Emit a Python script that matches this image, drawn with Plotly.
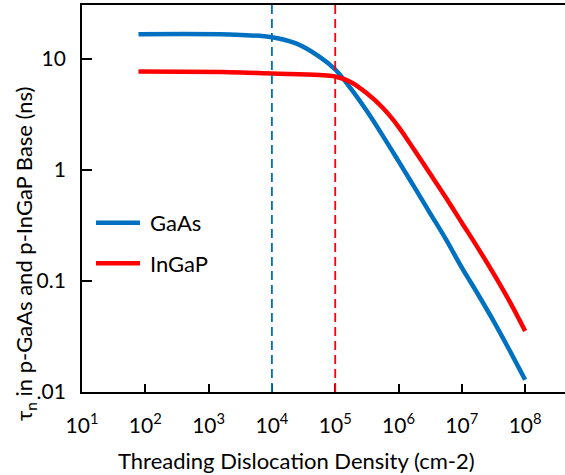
import plotly.graph_objects as go

# Minority-carrier lifetime vs threading dislocation density
gaas_density = [78, 2.1e3, 1e4, 2.4e4, 5.6e4, 1e5, 1.78e5, 3.16e5, 5.62e5, 1e6, 1.78e6,
                3.16e6, 5.62e6, 1e7, 1.78e7, 3.16e7, 5.62e7, 1e8]
gaas_tau = [16.7, 16.6, 15.7, 13.8, 10.5, 8.04, 5.37, 3.39, 2.04, 1.20, 0.70,
            0.407, 0.237, 0.132, 0.0767, 0.0437, 0.0240, 0.0129]

ingap_density = [78, 2.1e3, 1e4, 5.6e4, 1e5, 1.78e5, 3.16e5, 5.62e5, 1e6, 1.78e6,
                 3.16e6, 5.62e6, 1e7, 1.78e7, 3.16e7, 5.62e7, 1e8]
ingap_tau = [7.69, 7.6, 7.4, 7.18, 6.95, 6.17, 4.9, 3.63, 2.45, 1.51,
             0.923, 0.562, 0.335, 0.20, 0.117, 0.0661, 0.0355]

x_tick_vals = [1e1, 1e2, 1e3, 1e4, 1e5, 1e6, 1e7, 1e8]
x_tick_text = ["10<sup>%d</sup>" % i for i in range(1, 9)]
y_tick_vals = [0.01, 0.1, 1, 10]
y_tick_text = [".01", "0.1", "1", "10"]

# Critical densities marked with dashed guides
gaas_critical = 1e4
ingap_critical = 1e5

BLUE = "#0070C0"
RED = "#FF0000"
FONT = "Lato, Open Sans, sans-serif"

fig = go.Figure()
fig.add_trace(go.Scatter(x=gaas_density, y=gaas_tau, mode="lines", name="GaAs",
                         line=dict(color=BLUE, width=4.5, shape="spline", smoothing=1.0),
                         showlegend=False))
fig.add_trace(go.Scatter(x=ingap_density, y=ingap_tau, mode="lines", name="InGaP",
                         line=dict(color=RED, width=4.5, shape="spline", smoothing=1.0),
                         showlegend=False))

for xv, col in [(gaas_critical, BLUE), (ingap_critical, RED)]:
    fig.add_shape(type="line", xref="x", yref="paper", x0=xv, x1=xv, y0=0, y1=1,
                  line=dict(color=col, width=1.8, dash="9px,5px"))

# Plot frame in pixels: left 82, right 565, top 5, bottom 392
def px_x(p):
    return (p - 82) / 483

def px_y(p):
    return (392 - p) / 387

# Legend drawn as line samples with labels
for name, col, py in [("GaAs", BLUE, 222.7), ("InGaP", RED, 263.3)]:
    yp = px_y(py)
    fig.add_shape(type="line", xref="paper", yref="paper",
                  x0=px_x(96), x1=px_x(140), y0=yp, y1=yp,
                  line=dict(color=col, width=4.5))
    fig.add_annotation(text=name, xref="paper", yref="paper",
                       x=px_x(148), y=yp, xanchor="left", yanchor="middle",
                       showarrow=False, font=dict(size=22, color="black", family=FONT))

# Axis titles
fig.add_annotation(text="Threading Dislocation Density (cm-2)", xref="paper", yref="paper",
                   x=px_x(296), y=px_y(460), xanchor="center", yanchor="middle",
                   showarrow=False, font=dict(size=22, color="black", family=FONT))
fig.add_annotation(text="τ<sub>n</sub> in p-GaAs and p-InGaP Base (ns)", xref="paper", yref="paper",
                   x=px_x(25), y=px_y(254), xanchor="center", yanchor="middle", textangle=-90,
                   showarrow=False, font=dict(size=22, color="black", family=FONT))

fig.update_xaxes(type="log", range=[1.0, 8.63],
                 tickvals=x_tick_vals, ticktext=x_tick_text,
                 ticks="inside", ticklen=8, tickwidth=1.5, tickcolor="black",
                 ticklabelstandoff=14,
                 showline=True, linecolor="black", linewidth=1.8, mirror=True,
                 showgrid=False, zeroline=False,
                 tickfont=dict(size=21, color="black", family=FONT))
fig.update_yaxes(type="log", range=[-2, 1.486],
                 tickvals=y_tick_vals, ticktext=y_tick_text,
                 ticks="inside", ticklen=10, tickwidth=1.5, tickcolor="black",
                 ticklabelstandoff=10,
                 showline=True, linecolor="black", linewidth=1.8,
                 showgrid=False, zeroline=False,
                 tickfont=dict(size=21, color="black", family=FONT))

fig.update_layout(width=565, height=475, margin=dict(l=82, r=0, t=5, b=83),
                  plot_bgcolor="white", paper_bgcolor="white",
                  font=dict(family=FONT, color="black"))

fig.write_html("out.html")
